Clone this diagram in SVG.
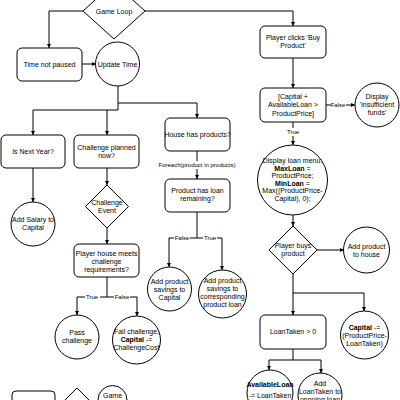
<svg xmlns="http://www.w3.org/2000/svg" width="400" height="400" viewBox="0 0 400 400">
<defs>
<marker id="ah" viewBox="0 0 10 10" refX="10" refY="5" markerWidth="4" markerHeight="4" orient="auto" markerUnits="userSpaceOnUse">
<path d="M0,0 L10,5 L0,10 z" fill="#000"/>
</marker>
<style>
.n{fill:#fff;stroke:#000;stroke-width:1}
.c{fill:none;stroke:#000;stroke-width:1;marker-end:url(#ah)}
.l{fill:none;stroke:#000;stroke-width:1}
text{font-family:"Liberation Sans",Arial,sans-serif;font-size:7px;text-anchor:middle;fill:#000}
.lb{font-size:6px}
.bg{fill:#fff}
</style>
</defs>
<rect width="400" height="400" fill="#fff"/>
<g id="connectors">
<path class="c" d="M83,11 H49 V48"/>
<path class="c" d="M82,64 H96"/>
<path class="l" d="M118,86 V110 H33"/>
<path class="c" d="M33,110 V135"/>
<path class="c" d="M107,110 V135"/>
<path class="c" d="M118,103 H197 V118"/>
<path class="c" d="M33,168 V202"/>
<path class="c" d="M107,168 V185"/>
<path class="c" d="M107,228 V244"/>
<path class="l" d="M107,277 V297"/>
<path class="c" d="M107,297 H77 V315"/>
<path class="c" d="M107,297 H137 V316"/>
<path class="c" d="M197,151 V179"/>
<path class="l" d="M197,212 V238"/>
<path class="c" d="M197,238 H169 V267"/>
<path class="c" d="M197,238 H222 V270"/>
<path class="c" d="M145,11 H293 V26"/>
<path class="c" d="M293,58 V88"/>
<path class="c" d="M326,105 H355"/>
<path class="c" d="M293,122 V145"/>
<path class="c" d="M293,214 V226"/>
<path class="c" d="M317,250 H344"/>
<path class="c" d="M293,274 V315"/>
<path class="c" d="M293,293 H364 V311"/>
<path class="l" d="M293,349 V360"/>
<path class="c" d="M293,360 H269 V370"/>
<path class="c" d="M293,360 H321 V373"/>
<rect class="bg" x="85" y="293" width="15" height="8"/>
<text class="lb" x="92" y="299">True</text>
<rect class="bg" x="114" y="293" width="16" height="8"/>
<text class="lb" x="122" y="299">False</text>
<rect class="bg" x="174" y="234" width="16" height="8"/>
<text class="lb" x="182" y="240">False</text>
<rect class="bg" x="203" y="234" width="14" height="8"/>
<text class="lb" x="210" y="240">True</text>
<rect class="bg" x="158" y="161" width="78" height="8"/>
<text class="lb" x="197" y="167">Foreach(product in products)</text>
<rect class="bg" x="331" y="101" width="15" height="8"/>
<text class="lb" x="338" y="107">False</text>
<rect class="bg" x="286" y="128" width="14" height="8"/>
<text class="lb" x="293" y="134">True</text>
</g>
<g id="game-loop">
<polygon class="n" points="114,-17 145,11 114,39 83,11"/>
<text x="114" y="14">Game Loop</text>
</g>
<g id="time-not-paused">
<rect class="n" x="17" y="48" width="65" height="33" rx="5"/>
<text x="49.5" y="67">Time not paused</text>
</g>
<g id="update-time">
<circle class="n" cx="117.5" cy="64" r="22"/>
<text x="117.5" y="67">Update Time</text>
</g>
<g id="is-next-year">
<rect class="n" x="1" y="135" width="64" height="33" rx="5"/>
<text x="33" y="154">Is Next Year?</text>
</g>
<g id="add-salary">
<circle class="n" cx="33" cy="224" r="22"/>
<text x="33" y="222">Add Salary to</text>
<text x="33" y="230">Capital</text>
</g>
<g id="challenge-planned">
<rect class="n" x="74" y="135" width="65" height="33" rx="5"/>
<text x="106.5" y="150">Challenge planned</text>
<text x="106.5" y="158">now?</text>
</g>
<g id="challenge-event">
<polygon class="n" points="107,185 128.5,206.5 107,228 85.5,206.5"/>
<text x="107" y="205">Challenge</text>
<text x="107" y="213">Event</text>
</g>
<g id="player-house-meets">
<rect class="n" x="74" y="244" width="65" height="33" rx="5"/>
<text x="106.5" y="256">Player house meets</text>
<text x="106.5" y="264">challenge</text>
<text x="106.5" y="272">requirements?</text>
</g>
<g id="pass-challenge">
<circle class="n" cx="77" cy="337" r="22"/>
<text x="77" y="335">Pass</text>
<text x="77" y="343">challenge</text>
</g>
<g id="fail-challenge">
<circle class="n" cx="136.5" cy="340" r="24"/>
<text x="136.5" y="334">Fail challenge,</text>
<text x="136.5" y="342"><tspan font-weight="bold">Capital</tspan> -=</text>
<text x="136.5" y="350">ChallengeCost</text>
</g>
<g id="house-has-products">
<rect class="n" x="165" y="118" width="65" height="33" rx="5"/>
<text x="197.5" y="137">House has products?</text>
</g>
<g id="product-has-loan">
<rect class="n" x="165" y="179" width="65" height="33" rx="5"/>
<text x="197.5" y="193">Product has loan</text>
<text x="197.5" y="201">remaining?</text>
</g>
<g id="savings-capital">
<circle class="n" cx="169.5" cy="289" r="22"/>
<text x="169.5" y="284">Add product</text>
<text x="169.5" y="292">savings to</text>
<text x="169.5" y="300">Capital</text>
</g>
<g id="savings-loan">
<circle class="n" cx="222.5" cy="294" r="24"/>
<text x="222.5" y="283">Add product</text>
<text x="222.5" y="291">savings to</text>
<text x="222.5" y="299">corresponding</text>
<text x="222.5" y="307">product loan</text>
</g>
<g id="player-clicks">
<rect class="n" x="260" y="26" width="66" height="32" rx="5"/>
<text x="293" y="40">Player clicks 'Buy</text>
<text x="293" y="48">Product'</text>
</g>
<g id="capital-check">
<rect class="n" x="260" y="88" width="66" height="34" rx="5"/>
<text x="293" y="99">[Captial +</text>
<text x="293" y="107">AvailableLoan &gt;</text>
<text x="293" y="116">ProductPrice]</text>
</g>
<g id="insufficient">
<circle class="n" cx="377" cy="105" r="22"/>
<text x="377" y="99">Display</text>
<text x="377" y="107">'insufficient</text>
<text x="377" y="115">funds'</text>
</g>
<g id="loan-menu">
<circle class="n" cx="292.5" cy="180" r="35"/>
<text x="292.5" y="163">Display loan menu:</text>
<text x="292.5" y="170.5"><tspan font-weight="bold">MaxLoan</tspan> =</text>
<text x="292.5" y="178">ProductPrice;</text>
<text x="292.5" y="185.5"><tspan font-weight="bold">MinLoan</tspan> =</text>
<text x="292.5" y="193">Max((ProductPrice-</text>
<text x="292.5" y="200.5">Capital), 0);</text>
</g>
<g id="player-buys">
<polygon class="n" points="293,226 317,250 293,274 269,250"/>
<text x="293" y="248">Player buys</text>
<text x="293" y="256">product</text>
</g>
<g id="add-to-house">
<circle class="n" cx="366.5" cy="250" r="23"/>
<text x="366.5" y="249">Add product</text>
<text x="366.5" y="257">to house</text>
</g>
<g id="loan-taken">
<rect class="n" x="260" y="315" width="66" height="34" rx="5"/>
<text x="293" y="334">LoanTaken &gt; 0</text>
</g>
<g id="capital-minus">
<circle class="n" cx="364.5" cy="335" r="24"/>
<text x="364.5" y="330"><tspan font-weight="bold">Capital</tspan> -=</text>
<text x="364.5" y="338">(ProductPrice-</text>
<text x="364.5" y="346">LoanTaken)</text>
</g>
<g id="available-loan">
<circle class="n" cx="270" cy="393" r="23"/>
<text x="270" y="387" font-weight="bold">AvailableLoan</text>
<text x="270" y="398">-= LoanTaken</text>
</g>
<g id="add-loan-taken">
<circle class="n" cx="320" cy="395" r="22"/>
<text x="320" y="386">Add</text>
<text x="320" y="394">LoanTaken to</text>
<text x="320" y="402">ongoing loan</text>
</g>
<g id="legend-rect">
<rect class="n" x="12" y="391" width="43" height="30" rx="4"/>
</g>
<g id="legend-diamond">
<polygon class="n" points="77,388 91,402 77,416 63,402"/>
</g>
<g id="legend-circle">
<circle class="n" cx="112.5" cy="400" r="14.5"/>
<text x="112.5" y="398">Game</text>
</g>
</svg>
